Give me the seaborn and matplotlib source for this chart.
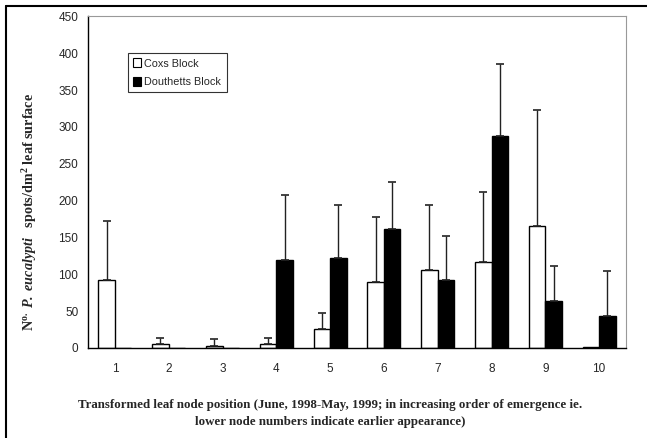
import numpy as np
import pandas as pd
import matplotlib
matplotlib.use("Agg")
import matplotlib.pyplot as plt
import seaborn as sns
from matplotlib.lines import Line2D
from matplotlib.patches import Patch

nodes = ["1", "2", "3", "4", "5", "6", "7", "8", "9", "10"]
cox = [92, 6, 3, 6, 26, 89, 106, 117, 166, 1]
cox_err = [81, 7, 9, 7, 22, 89, 88, 95, 157, 0]
dou = [0, 0, 0, 120, 122, 161, 92, 288, 64, 44]
dou_err = [0, 0, 0, 88, 72, 65, 60, 98, 47, 61]
series = ["Coxs Block", "Douthetts Block"]

df = pd.DataFrame({
    "node": nodes * 2,
    "value": cox + dou,
    "err": cox_err + dou_err,
    "block": [series[0]] * 10 + [series[1]] * 10,
})

sns.set_style("white")
plt.rcParams["font.family"] = ["Liberation Sans", "DejaVu Sans"]
plt.rcParams["mathtext.fontset"] = "custom"
plt.rcParams["mathtext.rm"] = "Liberation Serif"
plt.rcParams["mathtext.it"] = "Liberation Serif:italic"
plt.rcParams["mathtext.bf"] = "Liberation Serif:bold"
plt.rcParams["mathtext.bfit"] = "Liberation Serif:italic:bold"

fig = plt.figure(figsize=(6.47, 4.38), dpi=100)
ax = fig.add_axes([88 / 647, 1 - 348 / 438, (626 - 88) / 647, (348 - 16.5) / 438])

sns.barplot(data=df, x="node", y="value", hue="block", order=nodes,
            hue_order=series, palette=["white", "black"], width=0.61,
            edgecolor="black", linewidth=1.0, errorbar=None, legend=False, ax=ax,
            zorder=2)

# upward-only error bars at bar centres
vals = cox + dou
errs = cox_err + dou_err
for p, v, e in zip(ax.patches[:20], vals, errs):
    if e <= 0:
        continue
    xc = p.get_x() + p.get_width() / 2
    ax.errorbar([xc], [v], yerr=[[0], [e]], fmt="none", ecolor="#222222",
                elinewidth=1.0, capsize=3, capthick=1.2, zorder=3)

ax.set_xlim(-0.5, 9.5)
ax.set_ylim(0, 450)
ax.set_yticks(np.arange(0, 451, 50))
ax.set_xticks(range(10))
ax.set_xticklabels(nodes)
ax.set_xticks(np.arange(-0.5, 9.6, 1), minor=True)
ax.tick_params(axis="x", which="major", length=0, pad=11, labelsize=8.5)
ax.tick_params(axis="x", which="minor", length=5, width=1, direction="inout", color="black")
ax.tick_params(axis="y", length=6, width=1, direction="inout", labelsize=8.5, pad=4, color="black")
ax.set_xlabel("")
ax.set_ylabel("")

for s in ["top", "right"]:
    ax.spines[s].set_color("#999999")
    ax.spines[s].set_linewidth(0.8)
for s in ["left", "bottom"]:
    ax.spines[s].set_color("black")
    ax.spines[s].set_linewidth(1.0)

# legend
handles = [Patch(facecolor="white", edgecolor="black", linewidth=0.8, label=series[0]),
           Patch(facecolor="black", edgecolor="black", linewidth=0.8, label=series[1])]
leg = ax.legend(handles=handles, loc="upper left",
                bbox_to_anchor=((128 - 88) / 538, 1 - (53 - 16.5) / 331.5),
                frameon=True, fancybox=False, fontsize=7.8, handlelength=0.7, handleheight=0.9,
                handletextpad=0.3, borderpad=0.5, labelspacing=0.75, borderaxespad=0)
leg.get_frame().set_edgecolor("black")
leg.get_frame().set_linewidth(0.8)

# y label
fig.text(30 / 647, 1 - 212 / 438,
         r"N$^{\mathbf{o.}}$ $\mathbfit{P.\ eucalypti}$   spots/dm$^{\mathbf{2}}$ leaf surface",
         rotation=90, ha="center", va="center", fontsize=10.2, fontweight="bold",
         family=["Liberation Serif", "DejaVu Serif"])

# x label
fig.text(330 / 647, 1 - 405 / 438,
         "Transformed leaf node position (June, 1998-May, 1999; in increasing order of emergence ie.",
         ha="center", va="center", fontsize=9.3, fontweight="bold", family=["Liberation Serif"])
fig.text(330 / 647, 1 - 422 / 438,
         "lower node numbers indicate earlier appearance)",
         ha="center", va="center", fontsize=9.3, fontweight="bold", family=["Liberation Serif"])

# figure border (left and top)
fig.add_artist(Line2D([5.5 / 647, 5.5 / 647], [0, 1 - 5.5 / 438], color="black", lw=1.5,
                      transform=fig.transFigure))
fig.add_artist(Line2D([5.5 / 647, 1], [1 - 5.5 / 438, 1 - 5.5 / 438], color="black", lw=1.5,
                      transform=fig.transFigure))

fig.savefig("out.png", dpi=100)
